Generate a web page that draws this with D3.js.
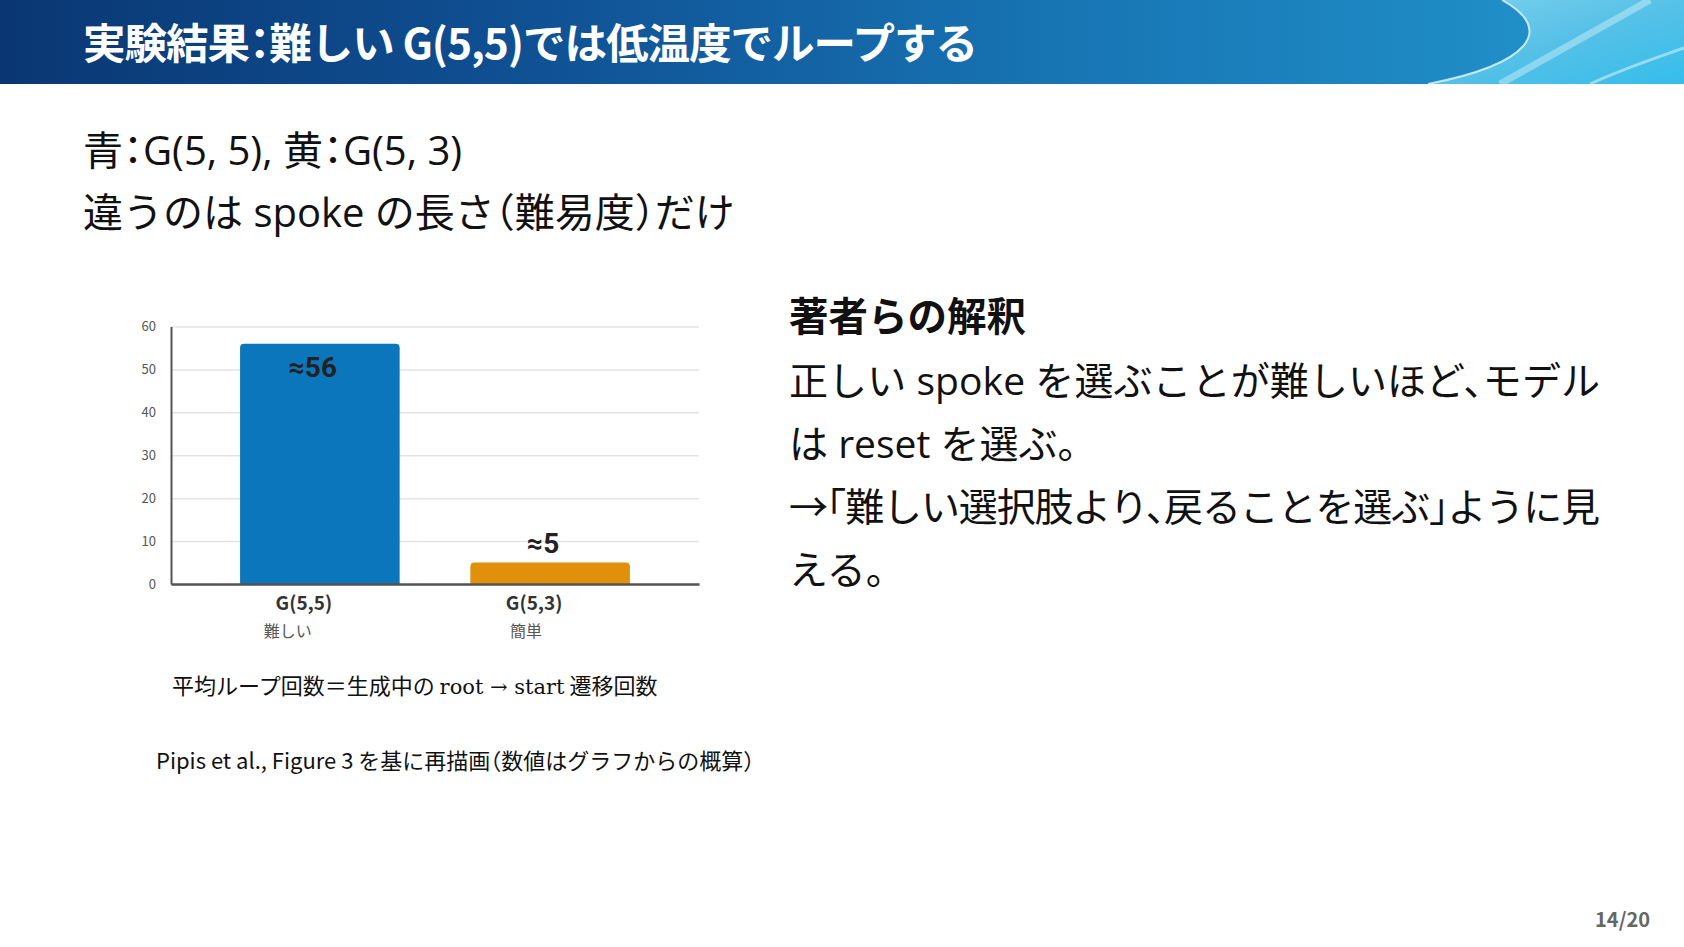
<!DOCTYPE html>
<html lang="ja">
<head>
<meta charset="utf-8">
<script src="https://cdn.jsdelivr.net/npm/d3@7.9.0/dist/d3.min.js"></script>
<style>
  html, body { margin: 0; padding: 0; background: #fff; }
  svg { display: block; font-family: "Noto Sans CJK JP", "Noto Sans", sans-serif; }
  .halt { font-feature-settings: "halt"; }
  .body { font-family: "Open Sans", "Noto Sans CJK JP", sans-serif; font-feature-settings: "halt"; }
</style>
</head>
<body>
<svg id="slide" width="1684" height="947"></svg>
<script>
// chart values
const categories = ['G(5,5)', 'G(5,3)'];
const difficulty = ['難しい', '簡単'];
const loopCounts = [56, 5];
const valueLabels = ['≈56', '≈5'];
const barColors = ['#0b76bc', '#e0900a'];
const yTicks = [0, 10, 20, 30, 40, 50, 60];

// slide texts
const titleText = '実験結果：難しい G(5,5)では低温度でループする';
const leftLines = ['青：G(5, 5), 黄：G(5, 3)', '違うのは spoke の長さ（難易度）だけ'];
const rightHeading = '著者らの解釈';
const rightLines = [
  '正しい spoke を選ぶことが難しいほど、モデル',
  'は reset を選ぶ。',
  '→「難しい選択肢より、戻ることを選ぶ」ように見',
  'える。',
];
const pageLabel = '14/20';

const svg = d3.select('#slide');
const W = 1684;
const headerH = 84;

// ---- header band ----
const defs = svg.append('defs');
const hg = defs.append('linearGradient').attr('id', 'hdr').attr('x1', 0).attr('x2', 1).attr('y1', 0).attr('y2', 0);
[['0', '#0a3773'], ['0.3', '#0f4f92'], ['0.65', '#1877b6'], ['0.88', '#1f8cc6'], ['1', '#2498cf']]
  .forEach(([o, c]) => hg.append('stop').attr('offset', o).attr('stop-color', c));
const wg = defs.append('linearGradient').attr('id', 'wave').attr('x1', 0).attr('x2', 1).attr('y1', 0).attr('y2', 1);
[['0', '#8ad8f0'], ['0.5', '#5cc6ea'], ['1', '#36c2ee']]
  .forEach(([o, c]) => wg.append('stop').attr('offset', o).attr('stop-color', c));

const header = svg.append('g').attr('class', 'header');
header.append('rect').attr('width', W).attr('height', headerH).attr('fill', 'url(#hdr)');
header.append('path')
  .attr('d', `M1502,0 C1556,30 1530,64 1428,${headerH} L${W},${headerH} L${W},0 Z`)
  .attr('fill', 'url(#wave)').attr('opacity', 0.9);
header.append('path')
  .attr('d', `M1502,0 C1556,30 1530,64 1428,${headerH}`)
  .attr('fill', 'none').attr('stroke', '#e8f8ff').attr('stroke-width', 2).attr('opacity', 0.8);
header.append('path')
  .attr('d', `M1500,${headerH} C1560,50 1610,22 1650,0`)
  .attr('fill', 'none').attr('stroke', '#ffffff').attr('stroke-width', 7).attr('opacity', 0.35);
header.append('path')
  .attr('d', `M1590,${headerH} C1630,66 1662,56 ${W},48`)
  .attr('fill', 'none').attr('stroke', '#ffffff').attr('stroke-width', 3).attr('opacity', 0.45);
header.append('text')
  .attr('class', 'halt')
  .attr('x', 83).attr('y', 59)
  .attr('fill', '#fff').attr('font-size', 42.5).attr('font-weight', 700)
  .attr('letter-spacing', -1)
  .text(titleText);

// ---- left text ----
svg.append('g').selectAll('text').data(leftLines).join('text')
  .attr('class', 'body')
  .attr('x', 83).attr('y', (d, i) => 165 + i * 62)
  .attr('font-size', 40).attr('fill', '#111')
  .text((d) => d);

// ---- right text ----
const right = svg.append('g');
right.append('text')
  .attr('class', 'halt')
  .attr('x', 789).attr('y', 331)
  .attr('font-size', 39.5).attr('font-weight', 700).attr('fill', '#111')
  .text(rightHeading);
// the full lines wrap at the column edge, so they share one width
const colWidth = 811;
right.selectAll('text.line').data(rightLines).join('text')
  .attr('class', 'line body')
  .attr('x', 789).attr('y', (d, i) => 395 + i * 63)
  .attr('font-size', 39).attr('fill', '#111')
  .attr('textLength', (d, i) => (i % 2 === 0 ? colWidth : null))
  .attr('lengthAdjust', 'spacing')
  .text((d) => d);

// ---- bar chart ----
const plot = { left: 171, right: 699, top: 326.5, bottom: 584 };

const xScale = d3.scaleBand()
  .domain(categories)
  .range([plot.left, plot.right])
  .paddingInner(0.307)
  .paddingOuter(0.3);

const yScale = d3.scaleLinear().domain([0, 60]).range([plot.bottom, plot.top]);

const chart = svg.append('g').attr('class', 'chart');

// gridlines
chart.append('g')
  .attr('class', 'grid')
  .attr('transform', `translate(${plot.left},0)`)
  .call(d3.axisLeft(yScale).tickValues(yTicks).tickFormat('').tickSize(-(plot.right - plot.left)))
  .call((g) => g.select('.domain').remove())
  .call((g) => g.selectAll('line').attr('stroke', '#e3e3e6').attr('stroke-width', 1.5));

// bars, rounded on top only
const r = 4;
chart.append('g').selectAll('path').data(categories).join('path')
  .attr('fill', (d, i) => barColors[i])
  .attr('d', (d, i) => {
    const x0 = xScale(d), x1 = x0 + xScale.bandwidth();
    const y0 = yScale(loopCounts[i]), y1 = yScale(0);
    return `M${x0},${y1} V${y0 + r} Q${x0},${y0} ${x0 + r},${y0} H${x1 - r} Q${x1},${y0} ${x1},${y0 + r} V${y1} Z`;
  });

// y axis
chart.append('g')
  .attr('transform', `translate(${plot.left},0)`)
  .call(d3.axisLeft(yScale).tickValues(yTicks).tickSize(0).tickSizeOuter(0).tickPadding(15))
  .call((g) => g.select('.domain').attr('stroke', '#555').attr('stroke-width', 2))
  .call((g) => g.selectAll('text')
    .attr('font-family', '"Noto Sans CJK JP", sans-serif')
    .attr('font-size', 13).attr('fill', '#555'));

// x axis
chart.append('g')
  .attr('transform', `translate(0,${plot.bottom})`)
  .call(d3.axisBottom(xScale).tickSize(0).tickSizeOuter(0).tickPadding(13))
  .call((g) => g.select('.domain').attr('stroke', '#555').attr('stroke-width', 2.5))
  .call((g) => g.selectAll('text')
    .attr('font-family', '"Noto Sans CJK JP", sans-serif')
    .attr('font-size', 19).attr('font-weight', 700).attr('fill', '#333')
    .attr('dx', -16));

// difficulty sub labels
chart.append('g').selectAll('text').data(categories).join('text')
  .attr('x', (d) => xScale(d) + xScale.bandwidth() / 2 - 8)
  .attr('y', 637)
  .attr('text-anchor', 'end')
  .attr('font-size', 16).attr('fill', '#555')
  .text((d, i) => difficulty[i]);

// value labels: inside tall bars, above short ones
chart.append('g').selectAll('text').data(categories).join('text')
  .attr('x', (d) => xScale(d) + xScale.bandwidth() / 2 - 7)
  .attr('y', (d, i) => {
    const top = yScale(loopCounts[i]);
    return plot.bottom - top > 40 ? top + 33 : top - 10;
  })
  .attr('text-anchor', 'middle')
  .attr('font-family', 'Roboto, "DejaVu Sans", sans-serif')
  .attr('font-size', 28).attr('font-weight', 700).attr('fill', '#222')
  .text((d, i) => valueLabels[i]);

// caption under the chart
const cap = svg.append('text').attr('x', 172).attr('y', 694).attr('font-size', 22).attr('fill', '#111');
cap.append('tspan').text('平均ループ回数＝生成中の ');
cap.append('tspan').attr('font-family', '"DejaVu Serif", serif').attr('font-size', 21).text('root → start');
cap.append('tspan').text(' 遷移回数');

svg.append('text')
  .attr('class', 'halt')
  .attr('x', 156).attr('y', 769)
  .attr('font-size', 22).attr('fill', '#111')
  .text('Pipis et al., Figure 3 を基に再描画（数値はグラフからの概算）');

// page number
svg.append('text')
  .attr('x', 1650).attr('y', 927)
  .attr('text-anchor', 'end')
  .attr('font-size', 20).attr('font-weight', 700).attr('fill', '#666')
  .text(pageLabel);
</script>
</body>
</html>
